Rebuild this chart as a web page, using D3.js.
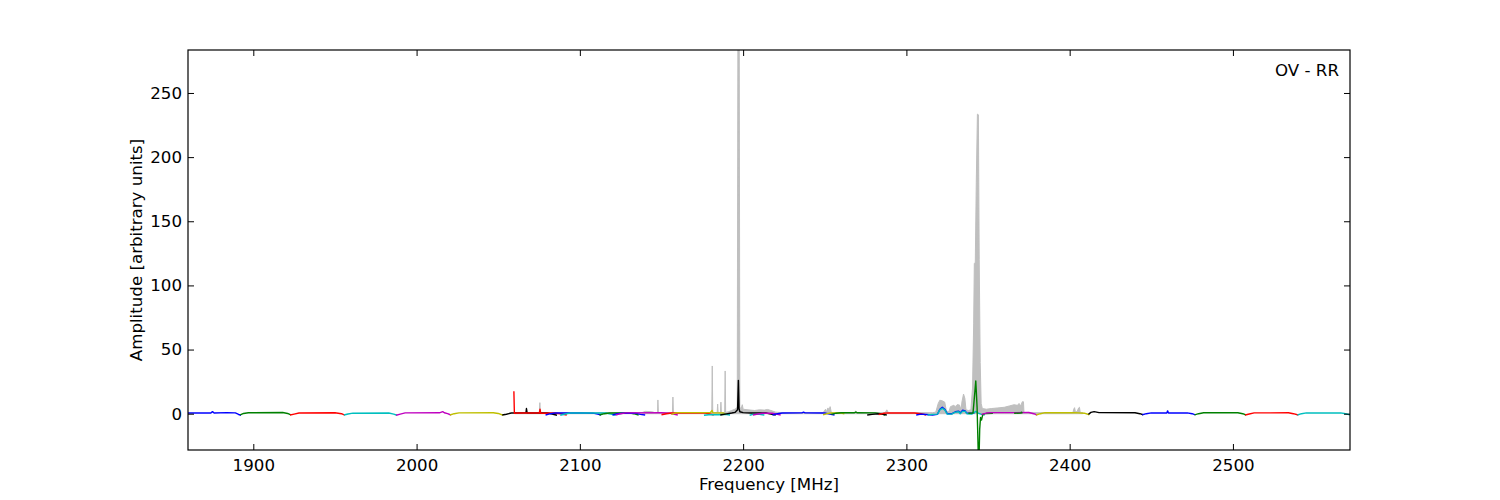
<!DOCTYPE html>
<html><head><meta charset="utf-8">
<script src="https://cdn.jsdelivr.net/npm/d3@7"></script>
<style>
html,body{margin:0;padding:0;background:#fff;}
svg{display:block;font-family:"DejaVu Sans",sans-serif;}
</style></head><body>
<svg id="chart" width="1500" height="500"></svg>
<script>
// ---------- data ----------
const xDomain = [1860, 2571.7];
const yDomain = [-28.3, 283.5];
const xTicks = [1900, 2000, 2100, 2200, 2300, 2400, 2500];
const yTicks = [0, 50, 100, 150, 200, 250];
const panelLabel = "OV - RR";
const xLabel = "Frequency [MHz]";
const yLabel = "Amplitude [arbitrary units]";

// grey envelope spectrum [MHz, amplitude]
const grayPts = [[2060,0.8],[2075.2,0.8],[2075.5,8.6],[2075.8,0.8],
 [2138,0.8],[2140,1.8],[2144,1.6],[2146,0.8],[2147.6,0.8],[2147.8,10.7],[2148.1,0.8],
 [2156.7,0.8],[2157,13],[2157.3,0.8],
 [2180.8,0.8],[2181.1,37.2],[2181.4,0.8],[2184.1,0.8],[2184.4,7.5],[2184.7,0.8],
 [2186.1,0.8],[2186.4,9],[2186.7,0.8],[2188.7,0.8],[2189.0,33.3],[2189.3,1.0],
 [2191,1.5],[2193,2.5],[2195,3.5],[2196.4,5],[2196.8,300],[2197.6,300],[2198.0,5],[2198.8,4],[2199.5,7],[2200,3.5],
 [2203,3],[2207,2.5],[2210,3],[2213,2.8],[2215,3.3],[2217,2.5],[2220,1.2],[2224,0.8],
 [2249,0.8],[2250.5,3.5],[2251,1.5],[2252,4.5],[2252.5,2],[2253.3,5.5],[2254,1],[2255,0.8],
 [2268,0.8],[2269,2],[2270,0.8],[2287,0.8],[2288,3],[2289,0.8],
 [2316,0.8],[2318,1.2],[2319.5,8],[2320.5,10.5],[2322,10],[2323.5,9],[2324.5,2],[2326,1.5],[2327,5.5],
 [2329,6.5],[2330,5.5],[2331,7],[2332.5,6.8],[2333.5,3],[2334,9],[2335,15.3],[2335.8,12],[2336.5,3],
 [2338,2.5],[2339.5,3],[2340.5,20],[2341.2,70],[2341.6,117],[2342.2,118],[2342.8,180],[2343.5,233.5],
 [2344.1,233],[2344.6,120],[2345.2,40],[2345.8,8],[2346.5,4],[2349,3.5],[2352,4],[2356,4.5],[2360,5],
 [2363,6],[2366,7],[2368,6.5],[2369,8],[2370,6],[2371,9.3],[2371.7,9.3],[2372,1],[2374,0.8],
 [2402,0.8],[2402.5,3.5],[2403,4.7],[2403.5,1.5],[2404.5,1.5],[2405.5,4.5],[2406,5],[2406.5,0.8],[2408,0.8]];

// sub-band spectra [MHz, amplitude]
const segB1 = [[1860,0.6],[1866,0.6],[1874,0.5],[1875,1.6],[1876,0.5],[1884,0.8],[1889,0.6],[1891,-0.6],[1892.5,-1.2]];
const segG1 = [[1892,-1.0],[1894,0.2],[1897,0.7],[1918,0.9],[1921,0.2],[1923,-1.0]];
const segR1 = [[1922.5,-1.0],[1925,-0.3],[1928,0.5],[1950,0.7],[1954,0],[1956,-1.2]];
const segC1 = [[1955.5,-1.0],[1958,-0.2],[1961,0.4],[1983,0.5],[1986,-0.3],[1988,-1.2]];
const segM1 = [[1987.5,-1.2],[1990,-0.3],[1993,0.6],[2014,0.7],[2016,1.6],[2017,0.7],[2019,0],[2021,-1.0]];
const segY1 = [[2020.5,-1.0],[2023,0],[2026,0.6],[2047,0.7],[2050,0.2],[2053,-1.2]];
const segK1 = [[2052.5,-1.0],[2055,-0.4],[2058,0.5],[2067,0.6],[2067.3,4.0],[2067.7,0.6],[2080,0.6],[2083,-0.2],[2086,-1.2]];
const segR2 = [[2059.6,17.5],[2059.9,0.4],[2062,0.5],[2075.2,0.5],[2075.6,3.5],[2076,0.4],[2084,0.5],[2088,0],[2092,-1.0]];
const segB2 = [[2079,-1.0],[2082,0],[2085,0.5],[2100,0.6],[2108,0.4],[2111,-0.3],[2113,-1.0]];
const segC2 = [[2088,-1.2],[2091,-0.2],[2094,0.5],[2116,0.5],[2119,-0.3],[2122,-1.2]];
const segG2 = [[2112,-1.0],[2115,0],[2118,0.5],[2130,0.6],[2133,0],[2136,-1.0]];
const segB3 = [[2120,-1.0],[2123,0],[2126,0.4],[2134,0.4],[2137,-0.5],[2140,-1.0]];
const segM2 = [[2122,-1.0],[2125,0],[2128,0.6],[2150,0.7],[2155,0.4],[2158,-0.5],[2160,-1.0]];
const segR3 = [[2150,-0.8],[2153,0],[2156,0.5],[2176,0.6],[2179,0],[2182,-1.0]];
const segY2 = [[2156,-0.6],[2158,0.3],[2160,0.8],[2175,0.8],[2180,0.9],[2181,2.5],[2181.5,0.6],[2188,0.5],[2190,-0.5]];
const segC3 = [[2176,-1.2],[2179,-0.8],[2185,-0.8],[2189,-0.5],[2192,-1.0]];
const segK2 = [[2186,-1.0],[2189,-0.3],[2193,0.5],[2195,1.0],[2196.6,3.0],[2197.1,26],[2197.5,4],[2198,1.5],[2200,0.8],[2205,0.5],[2214,0.5],[2217,-0.3],[2220,-1.0]];
const segC4 = [[2204,-1.2],[2206,-0.5],[2210,-0.5],[2213,-1.0]];
const segM3 = [[2206,-1.0],[2209,-0.2],[2212,0.3],[2218,0.3],[2221,-0.5],[2223,-1.0]];
const segB4 = [[2218,-1.0],[2221,0],[2224,0.5],[2236,0.6],[2237,1.2],[2238,0.6],[2250,0.5],[2253,-0.3],[2256,-1.0]];
const segY3 = [[2249,-0.8],[2252,0.2],[2254,0.5],[2260,0.5],[2262,0]];
const segG3 = [[2254,-0.5],[2257,0.4],[2260,0.7],[2268,0.7],[2269,1.3],[2270,0.7],[2281,0.6],[2284,0],[2287,-1.0]];
const segK3 = [[2276,-1.0],[2279,-0.5],[2283,0],[2285,-0.3],[2288,-1.0]];
const segR4 = [[2283,-0.6],[2286,0.3],[2289,0.6],[2305,0.5],[2309,0],[2312,-1.0]];
const segB5 = [[2306,-1.0],[2309,-0.3],[2312,-0.6],[2316,-1.0],[2319,-0.5],[2320.5,3.5],[2322,5.0],[2323.5,3.5],[2325,0],[2328,0],[2330,1.5],[2332,2.0],[2333,0.5],[2334.5,2.8],[2336,2.2],[2337,0.3],[2340,0.3],[2342,0.8]];
const segC5 = [[2313,-1.0],[2316,-0.5],[2319,-0.3],[2320.5,3],[2322,4.2],[2323.5,3],[2325,-0.3],[2328,-0.2],[2330,1.2],[2332,1.5],[2333,0],[2334.5,2.0],[2336,1.8],[2337,0],[2340,-0.3],[2342.5,1.8],[2344,0.5],[2346,-0.5],[2348,-1.0]];
const segG4 = [[2338,0.3],[2340.8,0.5],[2341.6,12],[2342.5,25.5],[2343.3,5],[2344.0,-30],[2344.4,-40],[2344.9,-12],[2345.4,-3],[2346.0,-5],[2346.8,-0.5],[2349,0.2],[2353,0.3]];
const segM4 = [[2346,-0.5],[2349,0.5],[2352,0.8],[2375,0.9],[2378,0],[2380,-1.0]];
const segG5 = [[2366,0.3],[2370,0.5],[2370.5,1.2],[2371,0.3]];
const segY4 = [[2379.5,-1.0],[2382,0],[2385,0.8],[2400,0.7],[2403,0.8],[2409,0.4],[2412,-0.8]];
const segK4 = [[2411.5,-0.5],[2413,1.0],[2415,1.6],[2418,0.8],[2440,0.7],[2443,0],[2445,-0.8]];
const segB6 = [[2444.5,-0.8],[2447,0],[2450,0.6],[2459.5,0.6],[2460,2.2],[2460.5,0.6],[2472,0.6],[2475,0],[2477,-0.9]];
const segG6 = [[2476.5,-0.9],[2479,0],[2482,0.7],[2503,0.7],[2506,0],[2508,-1.0]];
const segR5 = [[2507.5,-1.0],[2510,-0.2],[2513,0.6],[2534,0.7],[2537,0],[2540,-1.0]];
const segC6 = [[2539.5,-1.0],[2542,0],[2545,0.6],[2566,0.6],[2569,0],[2571.7,-0.8]];

const segList = [segB1,segG1,segR1,segC1,segM1,segY1,segK1,segR2,segB2,segC2,segG2,segB3,segM2,segR3,segY2,segC3,segK2,segC4,segM3,segB4,segY3,segG3,segK3,segR4,segB5,segC5,segG4,segM4,segG5,segY4,segK4,segB6,segG6,segR5,segC6];
const segColors = ["b","g","r","c","m","y","k","r","b","c","g","b","m","r","y","c","k","c","m","b","y","g","k","r","b","c","g","m","g","y","k","b","g","r","c"];
const palette = {b:"#0000ff", g:"#008000", r:"#ff0000", c:"#00bfbf", m:"#bf00bf", y:"#bfbf00", k:"#000000"};

// ---------- layout ----------
const svg = d3.select("#chart");
const L = 188, R = 1350, T = 50, B = 450;
const fs = 16.67;
const x = d3.scaleLinear().domain(xDomain).range([L, R]);
const y = d3.scaleLinear().domain(yDomain).range([B, T]);

svg.append("defs").append("clipPath").attr("id","clip")
  .append("rect").attr("x",L).attr("y",T).attr("width",R-L).attr("height",B-T);

const plot = svg.append("g").attr("clip-path","url(#clip)");

plot.append("path").datum(grayPts)
  .attr("d", d3.area().x(d=>x(d[0])).y0(y(0)).y1(d=>y(d[1])))
  .attr("fill","#bfbfbf").attr("stroke","#bfbfbf").attr("stroke-width",1);

const line = d3.line().x(d=>x(d[0])).y(d=>y(d[1]));
segList.forEach((s,i)=>{
  plot.append("path").datum(s).attr("d", line)
    .attr("fill","none").attr("stroke", palette[segColors[i]])
    .attr("stroke-width",1.4).attr("stroke-linejoin","round");
});

// axes
function styleAxis(g){
  g.select(".domain").remove();
  g.selectAll(".tick line").attr("stroke","#000").attr("stroke-width",1);
  g.selectAll(".tick text").attr("fill","#000").style("font-size",fs+"px").style("font-family","'DejaVu Sans',sans-serif");
}
svg.append("g").attr("transform",`translate(0,${B})`)
  .call(d3.axisBottom(x).tickValues(xTicks).tickSize(-6).tickPadding(9.2).tickFormat(d3.format("d"))).call(styleAxis);
svg.append("g").attr("transform",`translate(0,${T})`)
  .call(d3.axisTop(x).tickValues(xTicks).tickSize(-6).tickFormat("")).call(styleAxis);
svg.append("g").attr("transform",`translate(${L},0)`)
  .call(d3.axisLeft(y).tickValues(yTicks).tickSize(-6).tickPadding(6).tickFormat(d3.format("d"))).call(styleAxis);
svg.append("g").attr("transform",`translate(${R},0)`)
  .call(d3.axisRight(y).tickValues(yTicks).tickSize(-6).tickFormat("")).call(styleAxis);

svg.append("rect").attr("x",L).attr("y",T).attr("width",R-L).attr("height",B-T)
  .attr("fill","none").attr("stroke","#000").attr("stroke-width",1.2);

svg.append("text").attr("x",(L+R)/2).attr("y",490).attr("text-anchor","middle")
  .style("font-size",fs+"px").text(xLabel);
svg.append("text").attr("transform",`translate(141.5,${(T+B)/2}) rotate(-90)`).attr("text-anchor","middle")
  .style("font-size",fs+"px").text(yLabel);
svg.append("text").attr("x",1339).attr("y",76).attr("text-anchor","end")
  .style("font-size",fs+"px").text(panelLabel);
</script></body></html>
